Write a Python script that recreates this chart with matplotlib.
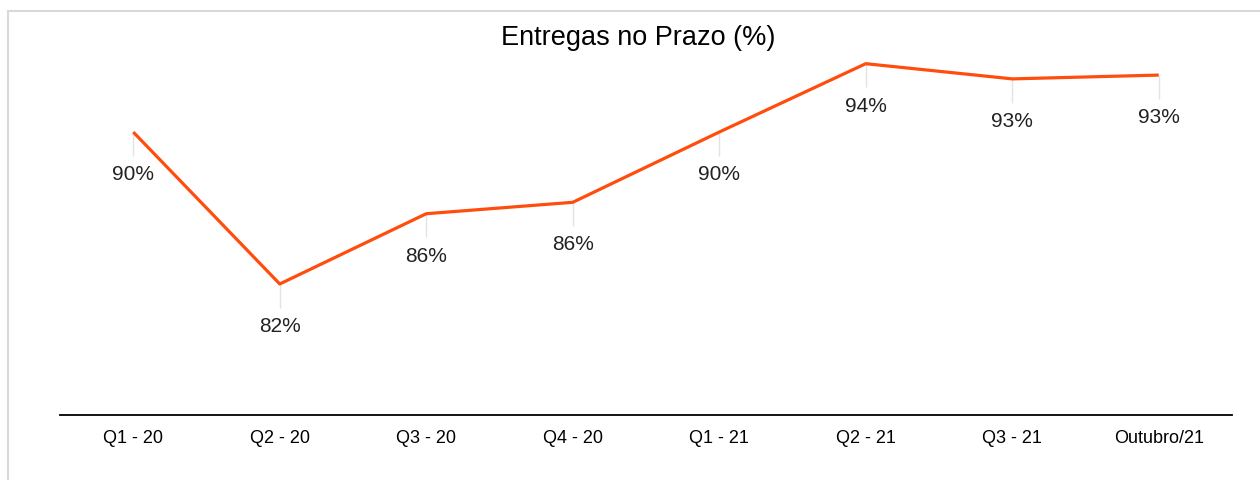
import matplotlib.pyplot as plt
from matplotlib.patches import Rectangle

categories = ['Q1 - 20', 'Q2 - 20', 'Q3 - 20', 'Q4 - 20',
              'Q1 - 21', 'Q2 - 21', 'Q3 - 21', 'Outubro/21']
values = [90.0, 82.0, 85.7, 86.3, 90.0, 93.6, 92.8, 93.0]
title = 'Entregas no Prazo (%)'

plt.rcParams['font.family'] = ['Liberation Sans', 'DejaVu Sans']

fig = plt.figure(figsize=(12.6, 4.81), dpi=100)
# light outer frame (runs off the right/bottom edges)
fig.patches.append(Rectangle((8, -20), 1300, 481 - 12 + 20, transform=None,
                             fill=False, edgecolor='#d9d9d9', linewidth=1.5))

ax = fig.add_axes([60 / 1260, 65 / 481, 1172 / 1260, 376 / 481])
x = list(range(len(categories)))

# faint leader lines below each point
ax.vlines(x, [v - 1.25 for v in values], values, color='#e3e3e3', linewidth=1, zorder=1)
ax.plot(x, values, color='#ff4d0d', linewidth=2.3, solid_capstyle='butt', zorder=2)

for xi, v in zip(x, values):
    ax.annotate(f'{round(v)}%', (xi, v), xytext=(0, -30), textcoords='offset points',
                ha='center', va='center', fontsize=15, color='#222222')

ax.set_xlim(-0.5, len(categories) - 0.5)
ax.set_ylim(75.1, 94.9)
ax.set_xticks(x)
ax.set_xticklabels(categories, fontsize=13)
ax.set_yticks([])
ax.tick_params(axis='x', length=0, pad=10)
for s in ['top', 'right', 'left']:
    ax.spines[s].set_visible(False)
ax.spines['bottom'].set_linewidth(1.3)

fig.text(638 / 1260, 1 - 38 / 481, title, ha='center', va='center', fontsize=19.5)

fig.savefig('out.png', dpi=100)
